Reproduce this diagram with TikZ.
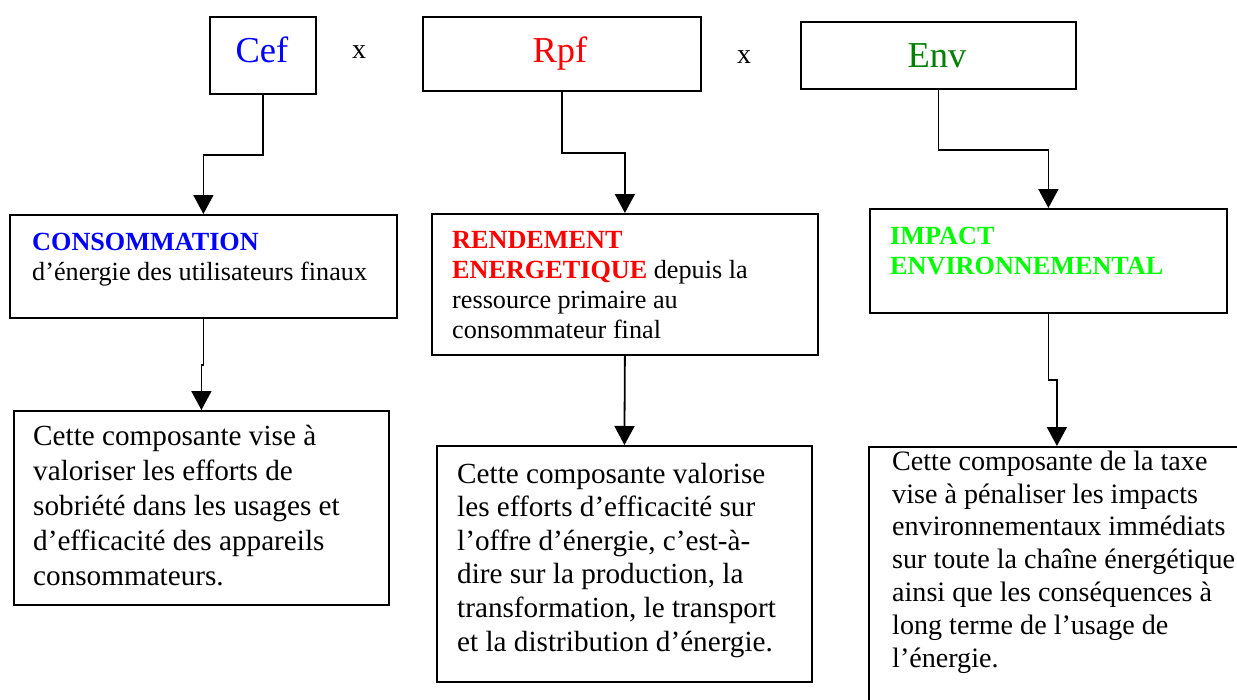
\documentclass[tikz,border=0pt]{standalone}
\usepackage{fontspec}
\setmainfont{Liberation Serif}
\usetikzlibrary{arrows.meta}

\definecolor{cefblue}{RGB}{0,0,255}
\definecolor{rpfred}{RGB}{255,0,0}
\definecolor{envgreen}{RGB}{0,128,0}
\definecolor{impgreen}{RGB}{0,255,0}

\tikzset{
	box/.style={draw,line width=1.8pt,anchor=north west,inner sep=0pt},
	txt/.style={anchor=base west,align=left,inner sep=0pt},
	arr/.style={line width=1.8pt,-{Triangle[length=19pt,width=20pt]}}
}

\begin{document}
\begin{tikzpicture}[x=1pt,y=-1pt]
	\useasboundingbox (0,0) rectangle (1237,699);

	% top row
	\node[box,minimum width=106pt,minimum height=77pt] (cef) at (209,16) {};
	\node[box,minimum width=278pt,minimum height=74pt] (rpf) at (422,16) {};
	\node[box,minimum width=275pt,minimum height=67pt] (env) at (800,21) {};

	\node (ceflbl) at (262,62) [anchor=base,font=\fontsize{36.5}{40}\selectfont,text=cefblue] {Cef};
	\node (rpflbl) at (560,62) [anchor=base,font=\fontsize{36.5}{40}\selectfont,text=rpfred] {Rpf};
	\node (envlbl) at (937,67) [anchor=base,font=\fontsize{36.5}{40}\selectfont,text=envgreen] {Env};
	\node (times1) at (359,58) [anchor=base,font=\fontsize{28}{32}\selectfont] {x};
	\node (times2) at (744,63) [anchor=base,font=\fontsize{28}{32}\selectfont] {x};

	% middle row (text nodes sit on the baseline of their last line)
	\node[box,minimum width=387pt,minimum height=103pt] (cons) at (9,214) {};
	\node[box,minimum width=386pt,minimum height=141pt] (rend) at (431,213) {};
	\node[box,minimum width=357pt,minimum height=104pt] (impact) at (869,208) {};

	\node (constxt) at (32,280) [txt,font=\fontsize{26.2}{30}\selectfont]
		{\textbf{\color{cefblue}CONSOMMATION}\\d’énergie des utilisateurs finaux};
	\node (rendtxt) at (452,338) [txt,font=\fontsize{26.2}{30}\selectfont]
		{\textbf{\color{rpfred}RENDEMENT}\\\textbf{\color{rpfred}ENERGETIQUE} depuis la\\ressource primaire au\\consommateur final};
	\node (impacttxt) at (890,274) [txt,font=\fontsize{26.2}{30}\selectfont,text=impgreen]
		{\textbf{IMPACT}\\\textbf{ENVIRONNEMENTAL}};

	% bottom row
	\node[box,minimum width=375pt,minimum height=194pt] (consbot) at (13,410) {};
	\node[box,minimum width=375pt,minimum height=236pt] (rendbot) at (436,445) {};
	\node[box,minimum width=376pt,minimum height=290pt] (impactbot) at (868,446) {};

	\node (consbottxt) at (33,585) [txt,font=\fontsize{29.2}{34.8}\selectfont]
		{Cette composante vise à\\valoriser les efforts de\\sobriété dans les usages et\\d’efficacité des appareils\\consommateurs.};
	\node (rendbottxt) at (457,651) [txt,font=\fontsize{29.2}{33.6}\selectfont]
		{Cette composante valorise\\les efforts d’efficacité sur\\l’offre d’énergie, c’est-à-\\dire sur la production, la\\transformation, le transport\\et la distribution d’énergie.};
	\node (impactbottxt) at (892,667) [txt,font=\fontsize{28.1}{32.8}\selectfont]
		{Cette composante de la taxe\\vise à pénaliser les impacts\\environnementaux immédiats\\sur toute la chaîne énergétique\\ainsi que les conséquences à\\long terme de l’usage de\\l’énergie.};

	% connectors
	\draw[arr] (cef.south) -- ++(0,60) -| (cons.north);
	\draw[arr] (rpf.south) -- ++(0,61) -| (rend.north);
	\draw[arr] (env.south) -- ++(0,60) -| (impact.north);
	\draw[arr] (cons.south) -- ++(0,46) -| (consbot.north);
	\draw[arr] (rend.south) -- (rendbot.north);
	\draw[arr] (impact.south) -- ++(0,66) -| (impactbot.north);
\end{tikzpicture}
\end{document}
